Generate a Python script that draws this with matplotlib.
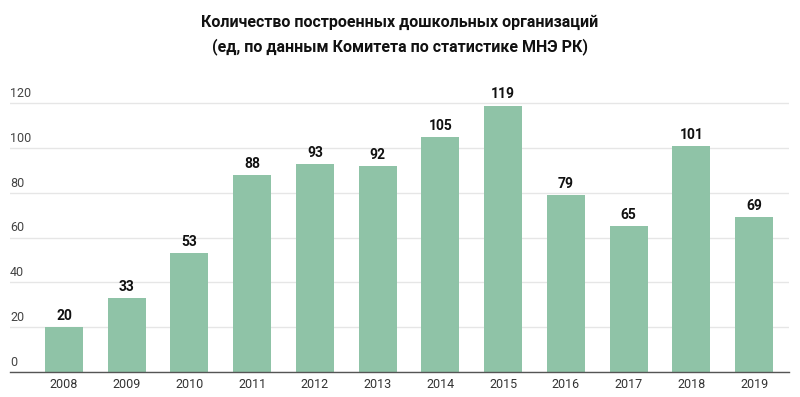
import matplotlib
matplotlib.use("Agg")
import matplotlib.pyplot as plt
import matplotlib.transforms as mtransforms

plt.rcParams['font.family'] = ['Roboto', 'DejaVu Sans']

years = ['2008', '2009', '2010', '2011', '2012', '2013',
         '2014', '2015', '2016', '2017', '2018', '2019']
built = [20, 33, 53, 88, 93, 92, 105, 119, 79, 65, 101, 69]
yticks = [0, 20, 40, 60, 80, 100, 120]

title = ('Количество построенных дошкольных организаций\n'
         '(ед, по данным Комитета по статистике МНЭ РК)')

fig = plt.figure(figsize=(8, 3.97), dpi=100)
ax = fig.add_axes([0.0125, 0.063, 0.9738, 0.705])

pos = list(range(len(years)))
bars = ax.bar(pos, built, width=0.606, color='#8fc3a7', zorder=2)

# value labels over the bars
for rect, v in zip(bars, built):
    ax.annotate(str(v), (rect.get_x() + rect.get_width() / 2, rect.get_height()),
                xytext=(0, 3), textcoords='offset points',
                ha='center', va='bottom', fontsize=10, fontweight='bold', color='#111111')

ax.set_xlim(-0.861, 11.557)
ax.set_ylim(0, 125)

ax.set_yticks(yticks)
ax.set_yticklabels([])
ax.tick_params(axis='y', length=0)
ax.yaxis.grid(True, color='#e6e6e6', linewidth=1, zorder=0)
ax.set_axisbelow(True)

# y labels sit on top of grid lines at the left edge
trans = mtransforms.blended_transform_factory(ax.transAxes, ax.transData)
for t in yticks:
    ax.text(0.0, t + 1.5, str(t), transform=trans, ha='left', va='bottom',
            fontsize=9, color='#444444')

ax.set_xticks(pos)
ax.set_xticklabels(years, fontsize=9, color='#333333')
ax.tick_params(axis='x', length=0, pad=4)

for s in ['top', 'right', 'left']:
    ax.spines[s].set_visible(False)
ax.spines['bottom'].set_color('#555555')
ax.spines['bottom'].set_linewidth(1)

fig.text(0.5, 0.913, title, ha='center', va='center', fontsize=11.5,
         fontweight='bold', color='#111111', linespacing=1.6)

plt.savefig('out.png', dpi=100)
